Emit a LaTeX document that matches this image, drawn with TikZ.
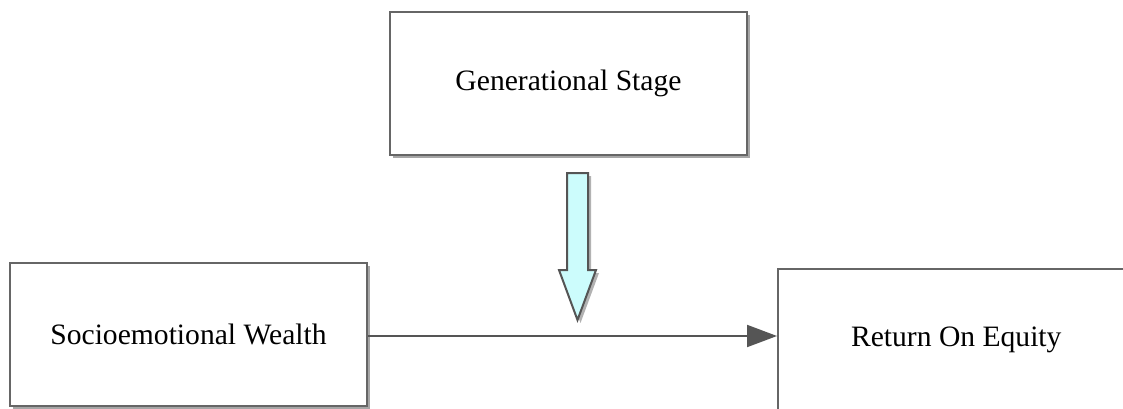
\documentclass[tikz,border=0pt]{standalone}
\usepackage{fontspec}
\setmainfont{Liberation Serif}
\usetikzlibrary{arrows.meta,shadows}
\definecolor{edgegray}{HTML}{666666}
\definecolor{tipgray}{HTML}{555555}
\definecolor{arrowfill}{HTML}{CCFCFC}
\tikzset{
  conceptbox/.style={draw=edgegray, line width=1.5pt, fill=white,
    minimum width=357pt, minimum height=143pt, inner sep=0pt,
    font=\fontsize{29.6}{35}\selectfont,
    drop shadow={opacity=0.35, shadow xshift=3pt, shadow yshift=-3pt, fill=black}},
  flatbox/.style={draw=edgegray, line width=1.5pt, fill=white,
    minimum width=357pt, minimum height=143pt, inner sep=0pt,
    font=\fontsize{29.6}{35}\selectfont},
  effect/.style={draw=tipgray, line width=2pt,
    -{Triangle[length=30pt,width=22pt]}},
  moderator/.style={draw=tipgray, line width=2pt, fill=arrowfill, line join=miter,
    drop shadow={opacity=0.3, shadow xshift=3pt, shadow yshift=-3pt, fill=black}}
}
\begin{document}
\begin{tikzpicture}[x=1pt,y=-1pt]
  \useasboundingbox (0,0) rectangle (1123,409);
  \clip (0,0) rectangle (1123,409);
  \fill[white] (0,0) rectangle (1123,409);

  % concept boxes
  \node[conceptbox] (gen) at (568.5,83.5) {Generational Stage};
  \node[conceptbox] (sew) at (188.5,334.5) {Socioemotional Wealth};
  \node[flatbox, anchor=north west] (roe) at (777,268) {Return On Equity};

  % main effect
  \coordinate (src) at (sew.east |- 0,336);
  \coordinate (dst) at (roe.west |- 0,336);
  \draw[effect] (src) -- (dst);

  % moderating block arrow
  \path[moderator] (567,173) -- (588,173) -- (588,270) -- (596,270)
    -- (577.5,320) -- (559,270) -- (567,270) -- cycle;
\end{tikzpicture}
\end{document}
